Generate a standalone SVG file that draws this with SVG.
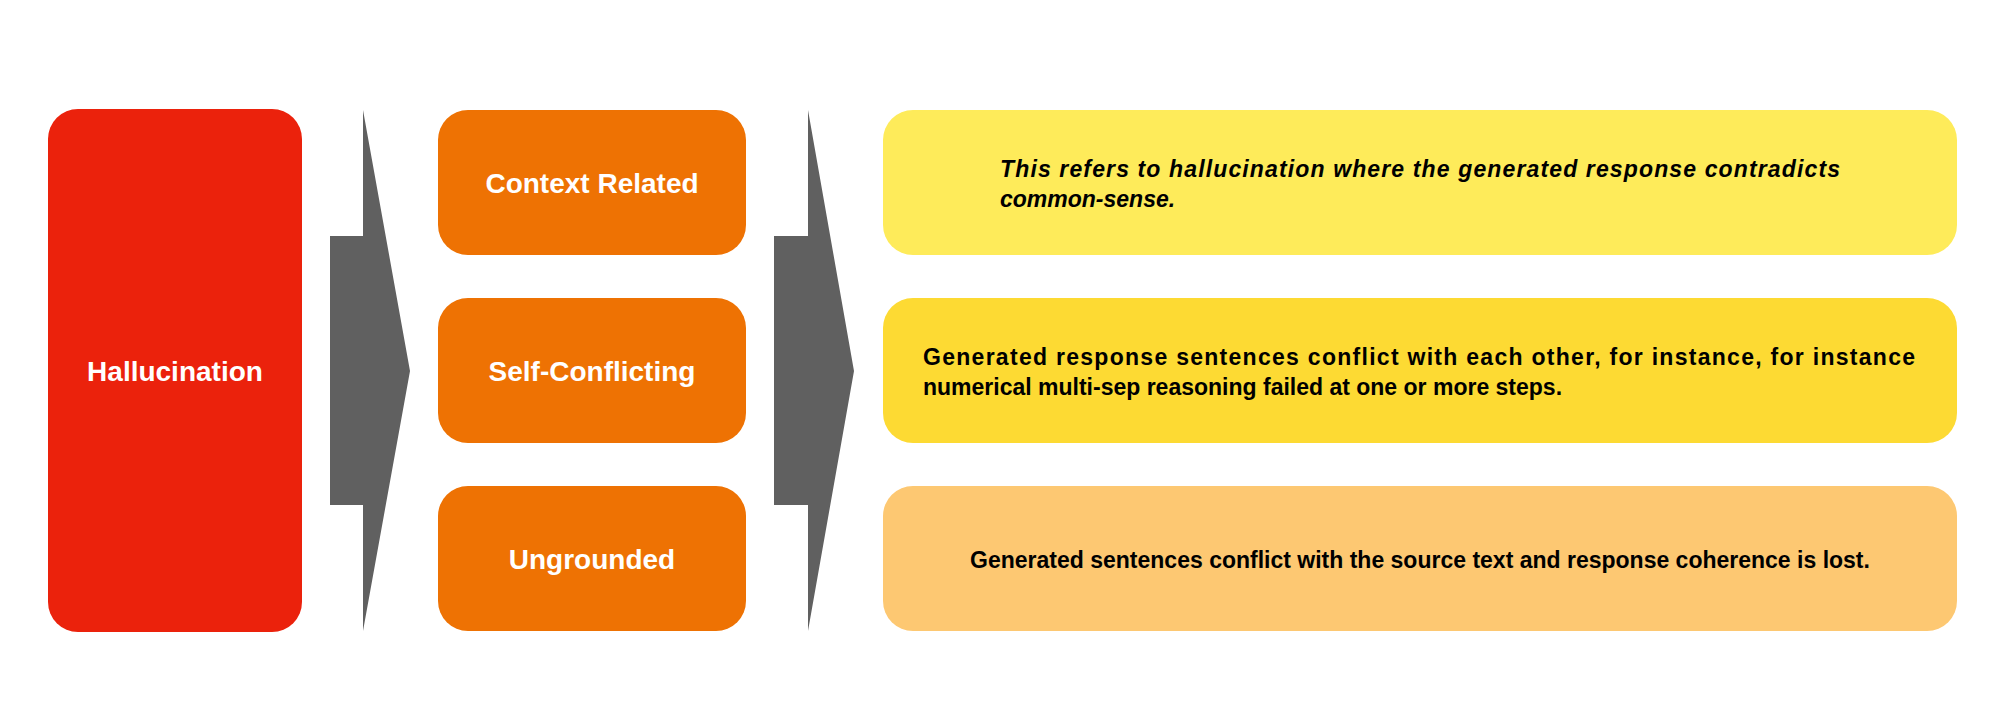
<svg xmlns="http://www.w3.org/2000/svg" width="2000" height="728" viewBox="0 0 2000 728">
<style>
.w{font-family:"Liberation Sans",Arial,sans-serif;font-weight:bold;font-size:28px;fill:#fff;text-anchor:middle}
.b{font-family:"Liberation Sans",Arial,sans-serif;font-weight:bold;font-size:23px;fill:#000}
.o{fill:#EE7203}
.g{fill:#606060}
</style>
<rect width="2000" height="728" fill="#fff"/>
<g id="connectors">
<polygon class="g" points="330,236 363,236 363,110 410,371 363,631 363,505 330,505"/>
<polygon class="g" points="774,236 808,236 808,110 854,371 808,631 808,505 774,505"/>
</g>
<g id="hallucination"><rect x="48" y="109" width="254" height="523" rx="30" fill="#EB220C"/><text class="w" x="175" y="381">Hallucination</text></g>
<g id="context"><rect class="o" x="438" y="110" width="308" height="145" rx="30"/><text class="w" x="592" y="193">Context Related</text></g>
<g id="self"><rect class="o" x="438" y="298" width="308" height="145" rx="30"/><text class="w" x="592" y="381">Self-Conflicting</text></g>
<g id="ungrounded"><rect class="o" x="438" y="486" width="308" height="145" rx="30"/><text class="w" x="592" y="569">Ungrounded</text></g>
<g id="desc1"><rect x="883" y="110" width="1074" height="145" rx="30" fill="#FEEB5A"/>
<text class="b" font-style="italic" x="1000" y="177" textLength="840" lengthAdjust="spacing">This refers to hallucination where the generated response contradicts</text>
<text class="b" font-style="italic" x="1000" y="207">common-sense.</text></g>
<g id="desc2"><rect x="883" y="298" width="1074" height="145" rx="30" fill="#FDDA33"/>
<text class="b" x="923" y="365" textLength="992" lengthAdjust="spacing">Generated response sentences conflict with each other, for instance, for instance</text>
<text class="b" x="923" y="395">numerical multi-sep reasoning failed at one or more steps.</text></g>
<g id="desc3"><rect x="883" y="486" width="1074" height="145" rx="30" fill="#FDC872"/>
<text class="b" x="1420" y="568" text-anchor="middle">Generated sentences conflict with the source text and response coherence is lost.</text></g>
</svg>
